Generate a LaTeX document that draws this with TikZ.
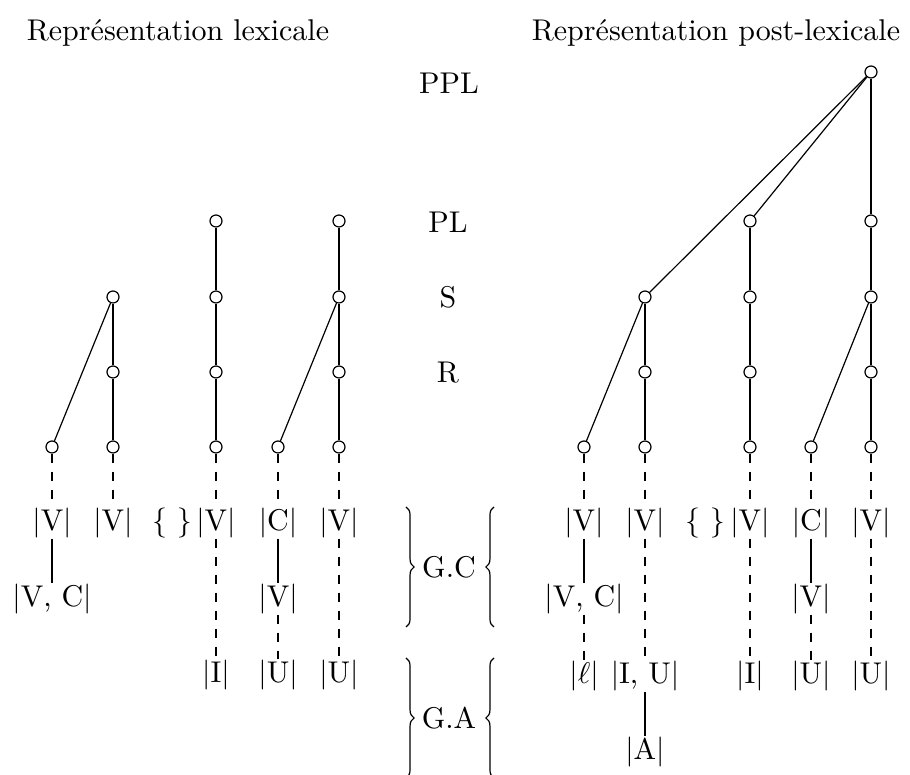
\documentclass[tikz,border=0pt]{standalone}
\usetikzlibrary{decorations.pathreplacing}
\begin{document}
\begin{tikzpicture}[x=0.33333pt,y=-0.33333pt,
  dot/.style={circle,draw,fill=white,inner sep=0pt,minimum size=4pt},
  lab/.style={inner sep=0pt},
  dl/.style={dashed},
  brc/.style={decorate,decoration={brace,amplitude=2.7pt}}]
\useasboundingbox (0,0) rectangle (910,775);
\clip (0,0) rectangle (910,775);
% titles and tier labels
\node[lab] (t1) at (178,33) {Représentation lexicale};
\node[lab] (t2) at (716,33) {Représentation post-lexicale};
\node[lab] (ppl) at (449,83) {PPL};
\node[lab] (pl) at (448,222) {PL};
\node[lab] (s) at (448,297) {S};
\node[lab] (r) at (448,373) {R};
\node[lab] (gc) at (449,567) {G.C};
\node[lab] (ga) at (449,718) {G.A};
\coordinate (gcl1) at (406,507);
\coordinate (gcl2) at (406,627);
\coordinate (gcr1) at (494,507);
\coordinate (gcr2) at (494,627);
\coordinate (gal1) at (406,658);
\coordinate (gal2) at (406,778);
\coordinate (gar1) at (494,658);
\coordinate (gar2) at (494,778);
\draw[brc] (gcl1) -- (gcl2);
\draw[brc] (gcr2) -- (gcr1);
\draw[brc] (gal1) -- (gal2);
\draw[brc] (gar2) -- (gar1);
% left tree nodes
\node[dot] (a1) at (113,297) {};
\node[dot] (a2) at (113,372) {};
\node[dot] (a3) at (113,447) {};
\node[dot] (a4) at (52,447) {};
\node[dot] (b1) at (216,221) {};
\node[dot] (b2) at (216,297) {};
\node[dot] (b3) at (216,372) {};
\node[dot] (b4) at (216,447) {};
\node[dot] (c1) at (339,221) {};
\node[dot] (c2) at (339,297) {};
\node[dot] (c3) at (339,372) {};
\node[dot] (c4) at (339,447) {};
\node[dot] (c5) at (278,447) {};
% right tree nodes
\node[dot] (top) at (871,72) {};
\node[dot] (d1) at (645,297) {};
\node[dot] (d2) at (645,372) {};
\node[dot] (d3) at (645,447) {};
\node[dot] (d4) at (584,447) {};
\node[dot] (e1) at (750,221) {};
\node[dot] (e2) at (750,297) {};
\node[dot] (e3) at (750,372) {};
\node[dot] (e4) at (750,447) {};
\node[dot] (f1) at (871,221) {};
\node[dot] (f2) at (871,297) {};
\node[dot] (f3) at (871,372) {};
\node[dot] (f4) at (871,447) {};
\node[dot] (f5) at (811,447) {};
% left labels
\node[lab] (lv1) at (52,523) {|V|};
\node[lab] (lv2) at (113,523) {|V|};
\node[lab] (lbr) at (172,523) {\{ \}};
\node[lab] (lv3) at (216,523) {|V|};
\node[lab] (lc) at (278,523) {|C|};
\node[lab] (lv4) at (339,523) {|V|};
\node[lab] (lvc) at (52,599) {|V, C|};
\node[lab] (lv5) at (278,599) {|V|};
\node[lab] (li) at (216,675) {|I|};
\node[lab] (lu1) at (278,675) {|U|};
\node[lab] (lu2) at (339,675) {|U|};
% right labels
\node[lab] (rv1) at (584,523) {|V|};
\node[lab] (rv2) at (645,523) {|V|};
\node[lab] (rbr) at (705,523) {\{ \}};
\node[lab] (rv3) at (750,523) {|V|};
\node[lab] (rc) at (811,523) {|C|};
\node[lab] (rv4) at (871,523) {|V|};
\node[lab] (rvc) at (584,599) {|V, C|};
\node[lab] (rv5) at (811,599) {|V|};
\node[lab] (rl) at (584,676) {|$\ell$|};
\node[lab] (riu) at (645,676) {|I, U|};
\node[lab] (ri) at (750,676) {|I|};
\node[lab] (ru1) at (811,676) {|U|};
\node[lab] (ru2) at (871,676) {|U|};
\node[lab] (ra) at (645,752) {|A|};
% left tree edges
\draw (a1) -- (a4);
\draw (a1) -- (a2) -- (a3);
\draw (b1) -- (b2) -- (b3) -- (b4);
\draw (c1) -- (c2) -- (c3) -- (c4);
\draw (c2) -- (c5);
\draw[dl] (a4) -- (lv1);
\draw[dl] (a3) -- (lv2);
\draw[dl] (b4) -- (lv3);
\draw[dl] (c5) -- (lc);
\draw[dl] (c4) -- (lv4);
\draw (lv1) -- (lvc);
\draw[dl] (lv3) -- (li);
\draw (lc) -- (lv5);
\draw[dl] (lv5) -- (lu1);
\draw[dl] (lv4) -- (lu2);
% right tree edges
\draw (top) -- (d1);
\draw (top) -- (e1);
\draw (top) -- (f1);
\draw (d1) -- (d4);
\draw (d1) -- (d2) -- (d3);
\draw (e1) -- (e2) -- (e3) -- (e4);
\draw (f1) -- (f2) -- (f3) -- (f4);
\draw (f2) -- (f5);
\draw[dl] (d4) -- (rv1);
\draw[dl] (d3) -- (rv2);
\draw[dl] (e4) -- (rv3);
\draw[dl] (f5) -- (rc);
\draw[dl] (f4) -- (rv4);
\draw (rv1) -- (rvc);
\draw[dl] (rvc) -- (rl);
\draw[dl] (rv2) -- (riu);
\draw (riu) -- (ra);
\draw[dl] (rv3) -- (ri);
\draw (rc) -- (rv5);
\draw[dl] (rv5) -- (ru1);
\draw[dl] (rv4) -- (ru2);
\end{tikzpicture}
\end{document}
